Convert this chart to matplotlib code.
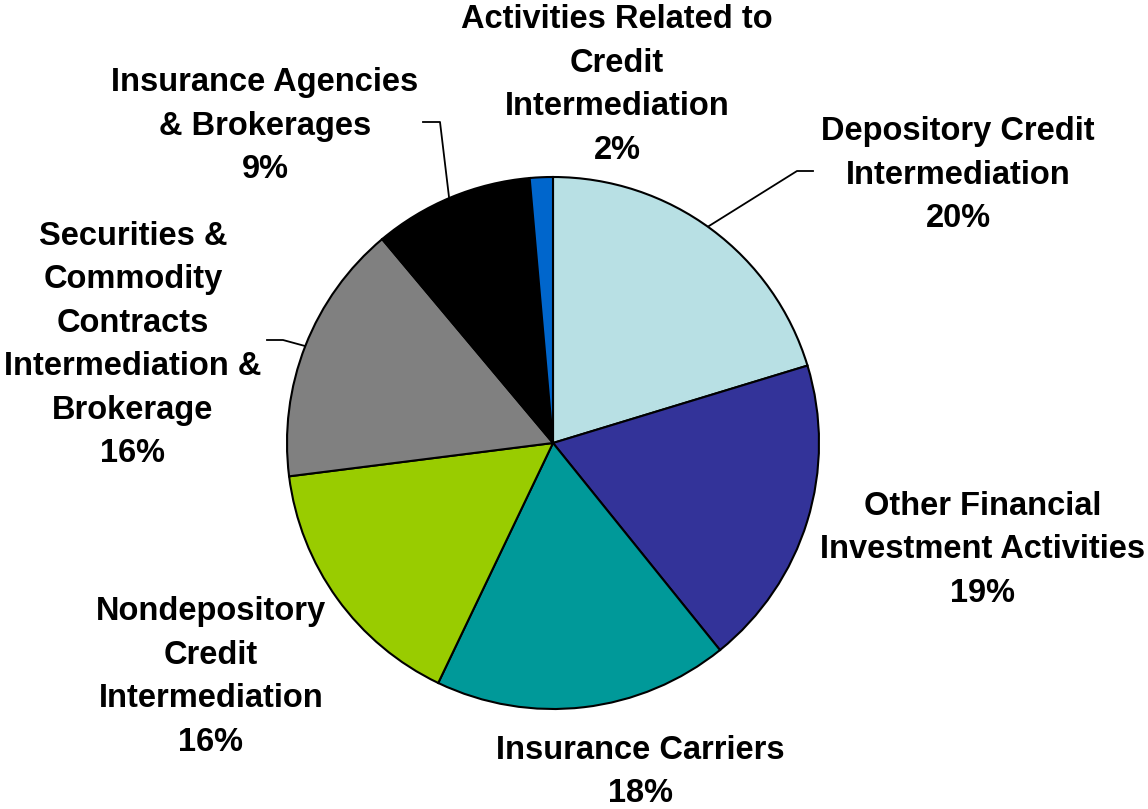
import matplotlib.pyplot as plt

# slice data, clockwise from 12 o'clock
labels = ['Depository Credit\nIntermediation',
          'Other Financial\nInvestment Activities',
          'Insurance Carriers',
          'Nondepository\nCredit\nIntermediation',
          'Securities &\nCommodity\nContracts\nIntermediation &\nBrokerage',
          'Insurance Agencies\n& Brokerages',
          'Activities Related to\nCredit\nIntermediation']
shares = [20.3, 18.9, 17.9, 15.9, 15.9, 9.7, 1.4]
pct_labels = ['20%', '19%', '18%', '16%', '16%', '9%', '2%']
colors = ['#B8E0E4', '#333399', '#009999', '#99CC00', '#808080', '#000000', '#0066CC']

W, H = 1148, 809
cx, cy, R = 553, 443, 266


def px(x, y):
    # pixel position -> data coords (pie radius = 1)
    return (x - cx) / R, (cy - y) / R


fig = plt.figure(figsize=(W / 100, H / 100), dpi=100)
ax = fig.add_axes([0, 0, 1, 1])
ax.pie(shares, colors=colors, startangle=90, counterclock=False, radius=1,
       wedgeprops=dict(edgecolor='black', linewidth=1.5))
ax.set_xlim(-cx / R, (W - cx) / R)
ax.set_ylim(-(H - cy) / R, cy / R)
ax.set_aspect('equal')
ax.axis('off')

# label centres in pixels
label_pos = [(958, 175), (983, 550), (640, 772), (211, 677),
             (133, 345), (265, 126), (617, 85)]
for lab, pct, (x, y) in zip(labels, pct_labels, label_pos):
    tx, ty = px(x, y)
    ax.text(tx, ty, lab + '\n' + pct, ha='center', va='center',
            fontsize=23.5, fontweight='bold', family='Liberation Sans',
            linespacing=1.52)

# leader lines
leaders = [[(709, 226), (797, 171), (813, 171)],
           [(449, 197), (440, 122), (423, 122)],
           [(305, 346), (283, 340), (267, 340)]]
for pts in leaders:
    xs, ys = zip(*[px(x, y) for x, y in pts])
    ax.plot(xs, ys, color='black', linewidth=1.3)

plt.savefig('out.png', dpi=100)
